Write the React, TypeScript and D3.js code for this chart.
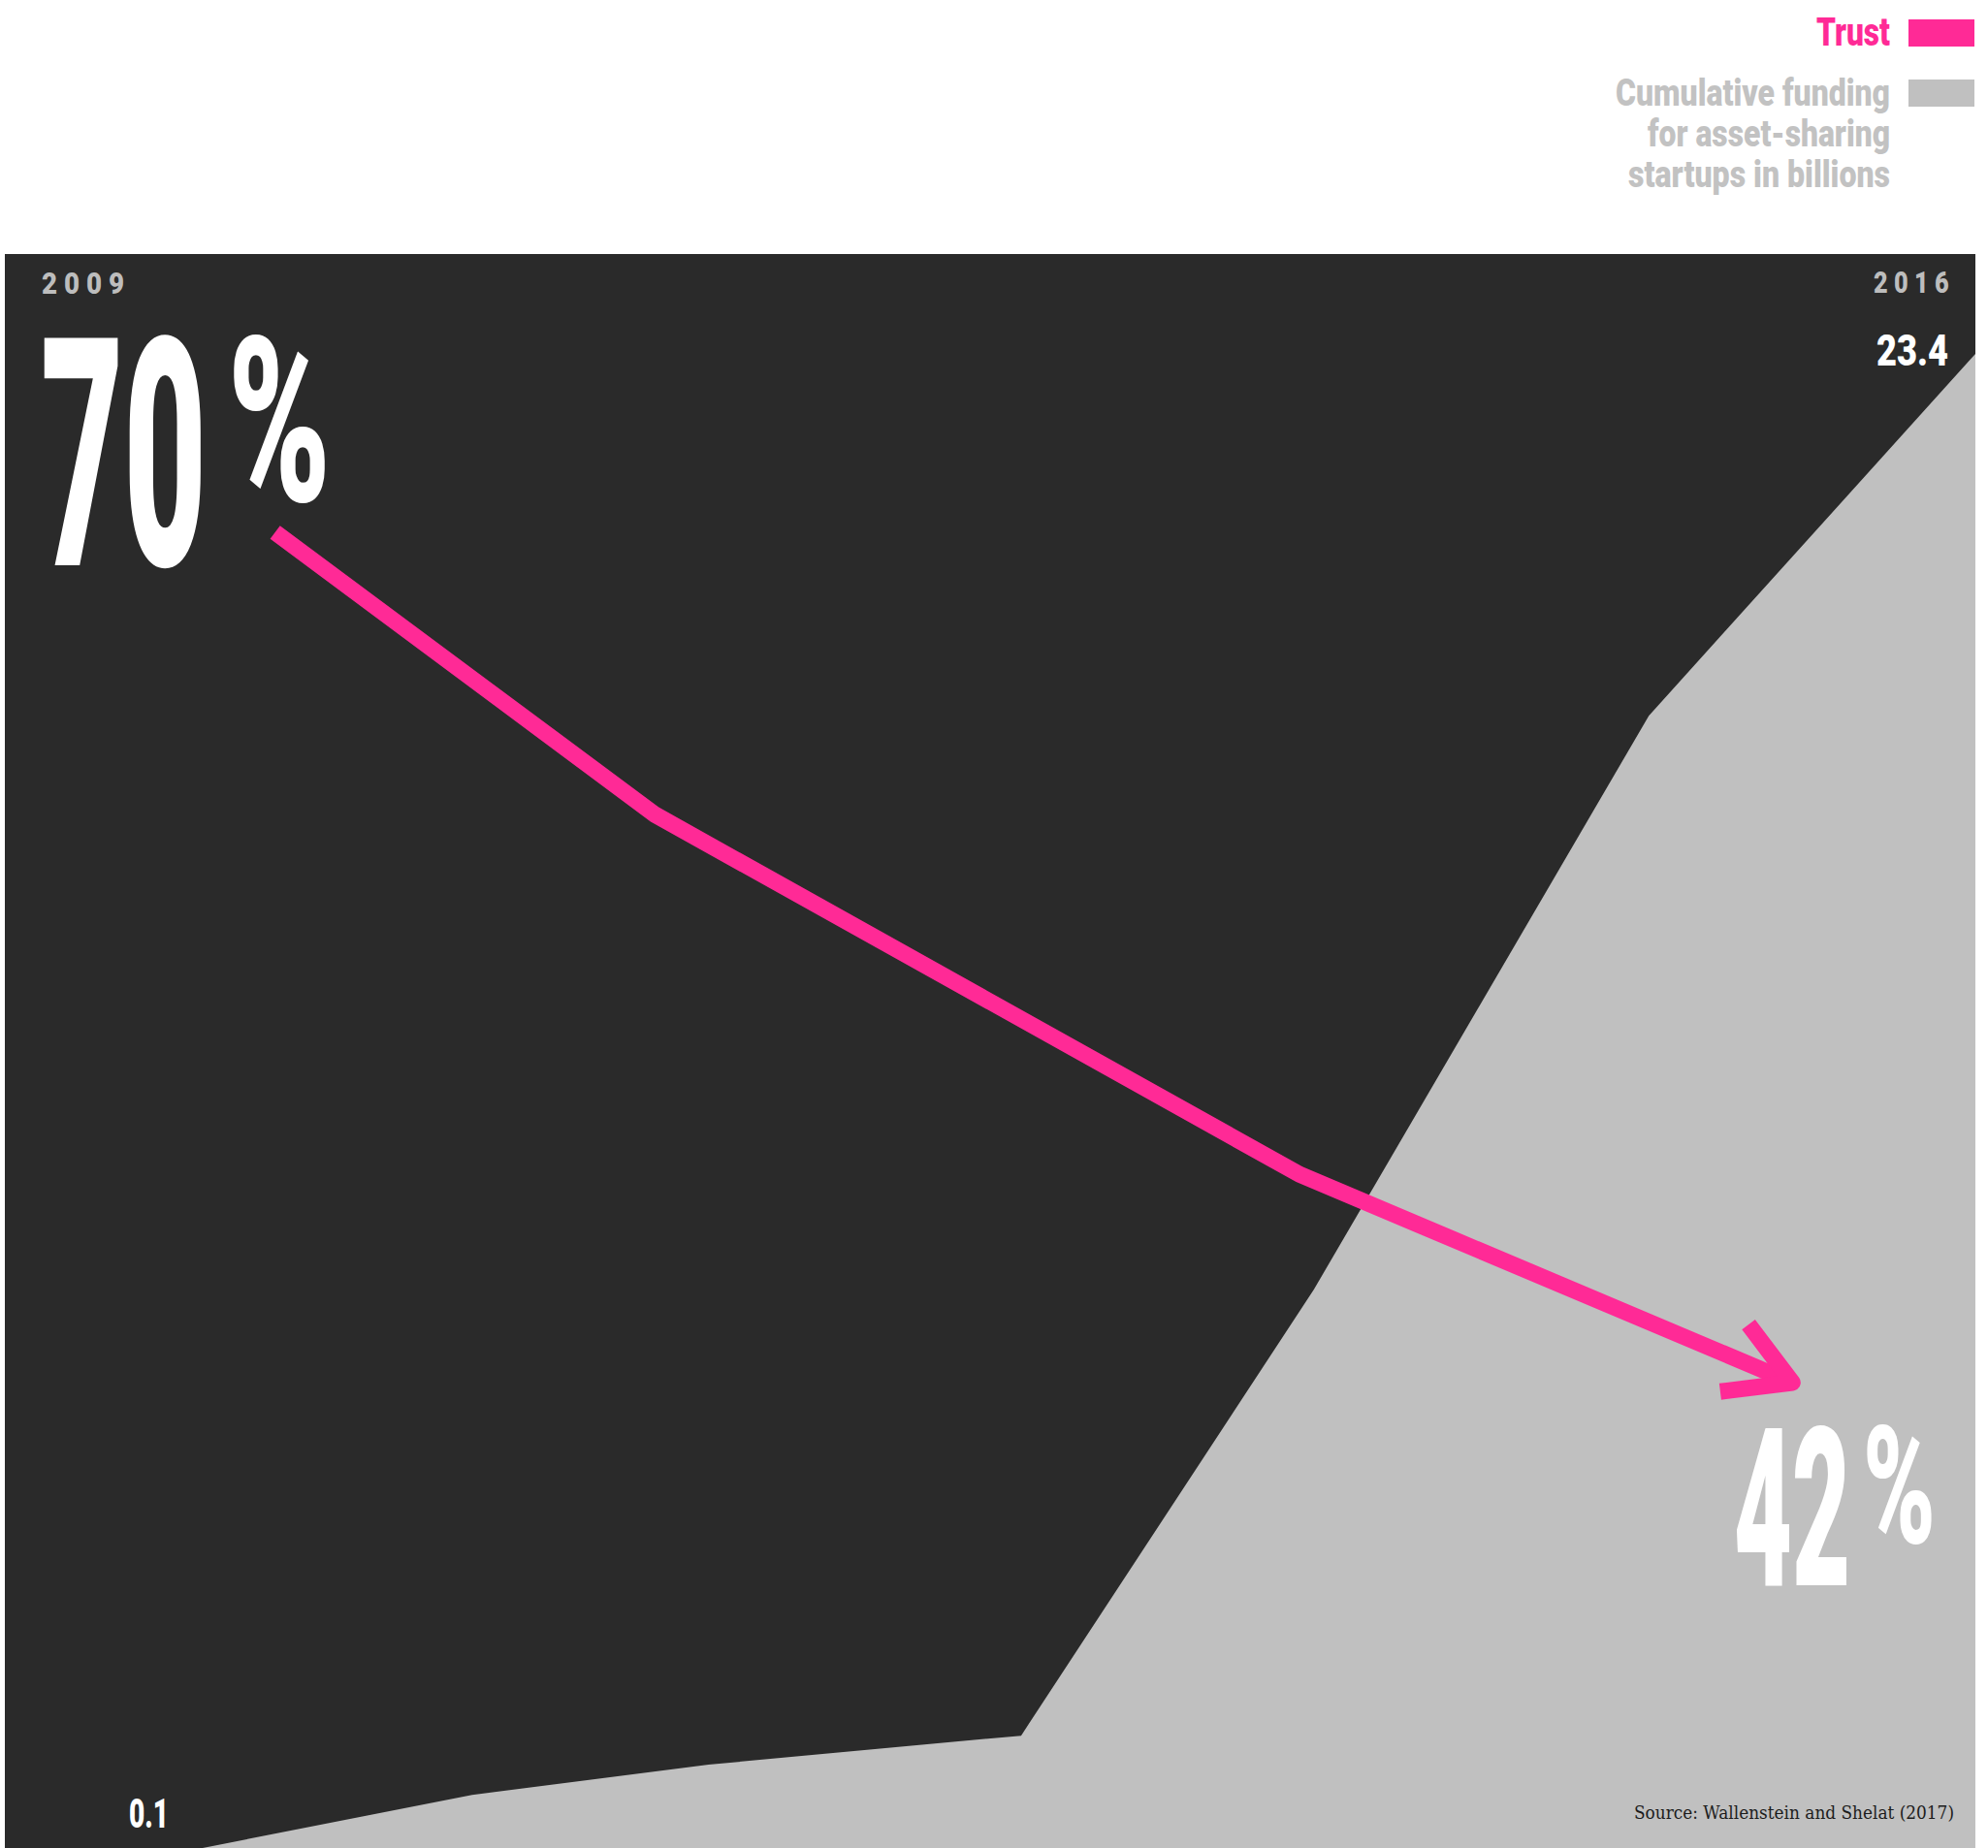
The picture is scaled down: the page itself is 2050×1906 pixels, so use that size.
import React from 'react';
import * as d3 from 'd3';

// ---- data ----
const startYear = 2009;
const endYear = 2016;
const fundingDates = [2009.0, 2010.66, 2011.5, 2012.61, 2013.65, 2014.84, 2016.0];
const fundingValues = [0.1, 1.5, 1.96, 2.4, 9.18, 17.9, 23.4];
const trustDates = [2009.96, 2011.31, 2013.6, 2015.35];
const trustValues = [70, 60.7, 48.85, 42];
const legendTrust = 'Trust';
const legendFunding = ['Cumulative funding', 'for asset-sharing', 'startups in billions'];
const sourceText = 'Source: Wallenstein and Shelat  (2017)';

// ---- style ----
const W = 2050;
const H = 1906;
const PINK = '#ff2a96';
const GREY = '#c0c0c0';
const DARK = '#2a2a2a';
const FONT = 'Roboto, "Noto Sans", sans-serif';

export default function App() {
  const panel = { left: 5, right: 2037, top: 262, bottom: H };
  const x = d3.scaleLinear().domain([startYear, endYear]).range([panel.left, panel.right]);
  const yFund = d3.scaleLinear().domain([0, 23.4]).range([1953, 365]);
  const yTrust = d3.scaleLinear().domain([42, 70]).range([1426, 549]);

  const fundData = fundingDates.map((d, i) => ({ d, v: fundingValues[i] }));
  const trustData = trustDates.map((d, i) => ({ d, v: trustValues[i] }));

  const area = d3
    .area<{ d: number; v: number }>()
    .x((p) => x(p.d))
    .y0(yFund(0))
    .y1((p) => yFund(p.v));

  const line = d3
    .line<{ d: number; v: number }>()
    .x((p) => x(p.d))
    .y((p) => yTrust(p.v));

  // arrowhead from last segment
  const n = trustData.length;
  const tip = [x(trustData[n - 1].d), yTrust(trustData[n - 1].v)];
  const prev = [x(trustData[n - 2].d), yTrust(trustData[n - 2].v)];
  const back = Math.atan2(prev[1] - tip[1], prev[0] - tip[0]);
  const armLen = 75;
  const a1 = back + Math.PI / 6;
  const a2 = back - Math.PI / 6;
  const arm1 = [tip[0] + armLen * Math.cos(a1), tip[1] + armLen * Math.sin(a1)];
  const arm2 = [tip[0] + armLen * Math.cos(a2), tip[1] + armLen * Math.sin(a2)];
  const arrowPath = d3.line()([arm1 as [number, number], tip as [number, number], arm2 as [number, number]]);

  const fmt = (v: number) => String(v);

  return (
    <svg
      width={W}
      height={H}
      style={{ position: 'absolute', left: 0, top: 0, display: 'block', background: '#fff' }}
    >
      <defs>
        <clipPath id="panelClip">
          <rect x={panel.left} y={panel.top} width={panel.right - panel.left} height={panel.bottom - panel.top} />
        </clipPath>
      </defs>

      {/* legend */}
      <text x={1873} y={47} fontFamily={FONT} fontWeight={900} fontSize={40} fill={PINK} textLength={76} lengthAdjust="spacingAndGlyphs">
        {legendTrust}
      </text>
      <rect x={1968} y={20} width={68} height={28} fill={PINK} />
      {legendFunding.map((t, i) => {
        const xs = [1666, 1699, 1679];
        const ws = [283, 250, 270];
        return (
          <text key={t} x={xs[i]} y={109 + i * 42} fontFamily={FONT} fontWeight={900} fontSize={39} fill="#c2c2c2" textLength={ws[i]} lengthAdjust="spacingAndGlyphs">
            {t}
          </text>
        );
      })}
      <rect x={1968} y={82} width={68} height={28} fill={GREY} />

      {/* panel */}
      <rect x={panel.left} y={panel.top} width={panel.right - panel.left} height={panel.bottom - panel.top} fill={DARK} />
      <g clipPath="url(#panelClip)">
        <path d={area(fundData) || ''} fill={GREY} />
      </g>

      {/* year labels */}
      <text x={43} y={303} fontFamily={FONT} fontWeight={900} fontSize={32} fill="#bdbdbd" letterSpacing={8} textLength={92} lengthAdjust="spacingAndGlyphs">
        {String(startYear)}
      </text>
      <text x={1932} y={302} fontFamily={FONT} fontWeight={900} fontSize={32} fill="#bdbdbd" letterSpacing={8} textLength={84} lengthAdjust="spacingAndGlyphs">
        {String(endYear)}
      </text>

      {/* value labels */}
      <text x={42} y={583} fontFamily={FONT} fontWeight={900} fontSize={330} fill="#fff" textLength={171} lengthAdjust="spacingAndGlyphs">
        {fmt(trustValues[0])}
      </text>
      <text x={235} y={517} fontFamily={FONT} fontWeight={900} fontSize={238} fill="#fff" textLength={106} lengthAdjust="spacingAndGlyphs">
        %
      </text>
      <text x={1788} y={1635} fontFamily={FONT} fontWeight={900} fontSize={228} fill="#fff" textLength={120} lengthAdjust="spacingAndGlyphs">
        {fmt(trustValues[n - 1])}
      </text>
      <text x={1921} y={1591} fontFamily={FONT} fontWeight={900} fontSize={168} fill="#fff" textLength={75} lengthAdjust="spacingAndGlyphs">
        %
      </text>
      <text x={1935} y={377} fontFamily={FONT} fontWeight={900} fontSize={45} fill="#fff" textLength={74} lengthAdjust="spacingAndGlyphs">
        {fmt(fundingValues[fundingValues.length - 1])}
      </text>
      <text x={133} y={1885} fontFamily={FONT} fontWeight={900} fontSize={42} fill="#fff" textLength={41} lengthAdjust="spacingAndGlyphs">
        {fmt(fundingValues[0])}
      </text>

      {/* trust line */}
      <path d={line(trustData) || ''} fill="none" stroke={PINK} strokeWidth={17} strokeLinecap="butt" strokeLinejoin="miter" />
      <path d={arrowPath || ''} fill="none" stroke={PINK} strokeWidth={17} strokeLinecap="butt" strokeLinejoin="round" />

      {/* source */}
      <text x={1685} y={1876} fontFamily='"DejaVu Serif", "Liberation Serif", serif' fontSize={19} fill="#1c1c1c" textLength={330} lengthAdjust="spacingAndGlyphs">
        {sourceText}
      </text>
    </svg>
  );
}
